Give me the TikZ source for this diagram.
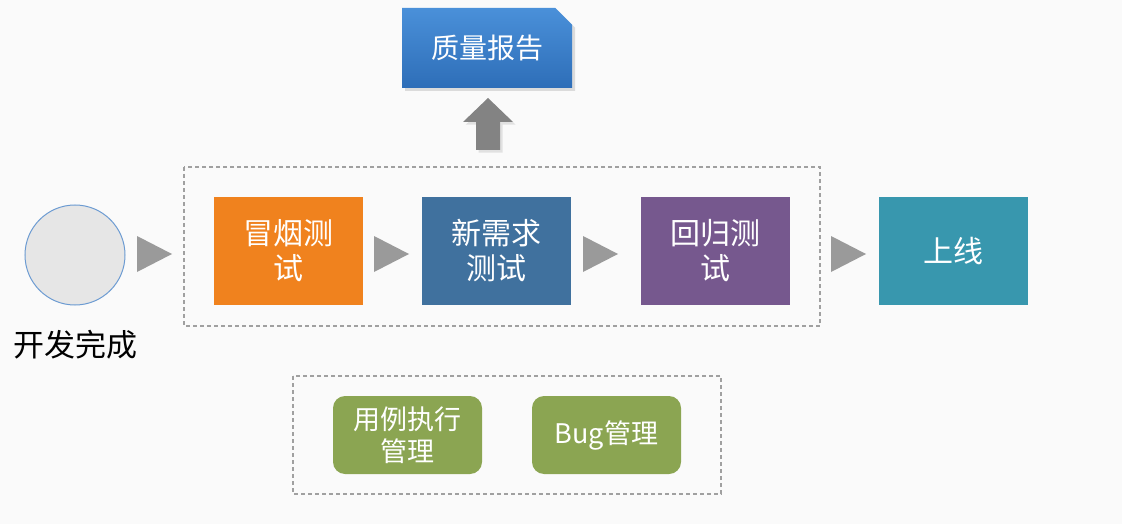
\documentclass[tikz,border=0pt]{standalone}
\usepackage{fontspec}
\setmainfont{Noto Sans CJK SC}
\usetikzlibrary{shapes.misc,shadows}

\definecolor{bgcol}{RGB}{250,250,250}
\definecolor{smokecol}{RGB}{240,130,30}
\definecolor{newcol}{RGB}{64,113,158}
\definecolor{regcol}{RGB}{118,88,142}
\definecolor{livecol}{RGB}{56,151,174}
\definecolor{toolcol}{RGB}{139,165,82}
\definecolor{reptop}{RGB}{74,144,217}
\definecolor{repbot}{RGB}{46,110,184}
\definecolor{arrcol}{RGB}{154,154,154}
\definecolor{dashcol}{RGB}{160,160,160}
\definecolor{circfill}{RGB}{230,230,230}
\definecolor{circline}{RGB}{108,155,210}

\begin{document}
\begin{tikzpicture}[x=1pt,y=-1pt,
  stage/.style={rectangle,minimum width=149pt,minimum height=108pt,inner sep=0pt,text=white,align=center,font=\fontsize{30}{35}\selectfont},
  tool/.style={rectangle,rounded corners=12pt,fill=toolcol,minimum width=149pt,minimum height=78pt,inner sep=0pt,text=white,align=center,font=\fontsize{27}{32}\selectfont},
  dashbox/.style={draw=dashcol,line width=1.2pt,dash pattern=on 4pt off 3pt}]
\fill[bgcol] (0,0) rectangle (1122,524);
\useasboundingbox (0,0) rectangle (1122,524);

% start
\node[circle,draw=circline,fill=circfill,line width=1pt,minimum size=100pt] at (75,255) (done) {};
\node[font=\fontsize{31}{36}\selectfont] at (75,345) (donetext) {开发完成};

% testing phase
\draw[dashbox] (184,167) rectangle (820,326);
\node[stage,fill=smokecol] at (288.5,251) (smoke) {冒烟测\\试};
\node[stage,fill=newcol] at (496.5,251) (newreq) {新需求\\测试};
\node[stage,fill=regcol] at (715.5,251) (regress) {回归测\\试};
\node[stage,fill=livecol] at (953.5,251) (online) {上线};

% report
\node[chamfered rectangle,chamfered rectangle corners=north east,chamfered rectangle xsep=14pt,
  top color=reptop,bottom color=repbot,minimum width=170pt,minimum height=80pt,inner sep=0pt,
  text=white,font=\fontsize{28}{34}\selectfont,drop shadow={opacity=0.25,shadow xshift=3pt,shadow yshift=-3pt}]
  at (487,48) (report) {质量报告};
\fill[arrcol!85!black,drop shadow={opacity=0.2}] (476,150) -- (476,122) -- (463,122) -- (488,98)
  -- (513,122) -- (500,122) -- (500,150) -- cycle;

% arrows between stages
\foreach \x in {137,374,583,831}
  \fill[arrcol] (\x,236) -- (\x+35,254) -- (\x,272) -- cycle;

% management
\draw[dashbox] (293,376) rectangle (721,494);
\node[tool] at (407.5,435) (cases) {用例执行\\管理};
\node[tool] at (606.5,435) (bugs) {Bug管理};
\end{tikzpicture}
\end{document}
